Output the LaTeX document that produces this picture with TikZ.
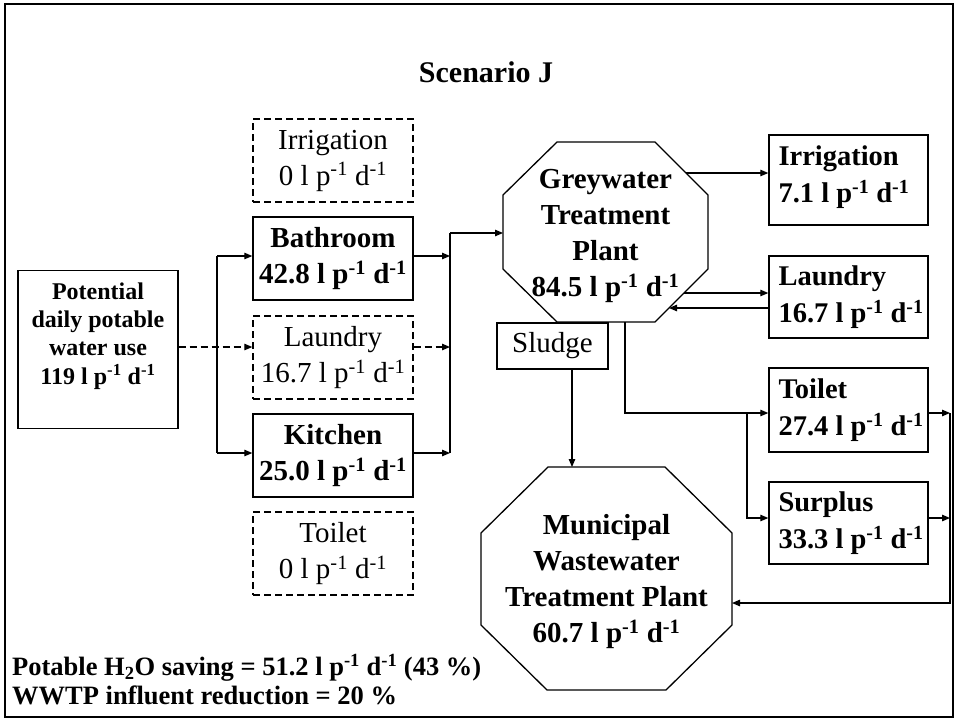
\documentclass[tikz,border=0pt]{standalone}
\usepackage{fontspec}
\setmainfont{Liberation Serif}
\usetikzlibrary{arrows.meta}
\newcommand{\lpd}{l p\textsuperscript{-1} d\textsuperscript{-1}}
\begin{document}
\begin{tikzpicture}[x=1pt,y=-1pt,
  txt/.style={font=\fontsize{29}{35}\selectfont, inner sep=0pt, align=center},
  box/.style={draw, line width=1.4pt, minimum width=160pt, minimum height=83pt, inner sep=0pt, align=center, font=\fontsize{29}{36}\selectfont},
  dbox/.style={box, dash pattern=on 7pt off 4pt},
  rbox/.style={draw, line width=1.4pt, minimum width=159pt, inner sep=0pt},
  rtxt/.style={anchor=west, inner sep=0pt, align=left, font=\fontsize{28.5}{36.5}\selectfont\bfseries},
  conn/.style={line width=1.2pt},
  arr/.style={line width=1.2pt, -{Triangle[length=8pt,width=6.5pt]}},
  darr/.style={arr, dash pattern=on 7pt off 4pt},
  oct/.style={draw, line width=1.3pt}
]
\useasboundingbox (0,0) rectangle (958,721);
\draw[line width=2.5pt] (5,4) rectangle (953,717);

% title
\node[txt, font=\fontsize{30}{36}\selectfont\bfseries] (title) at (486,72) {Scenario J};

% left box
\node[draw, line width=1.4pt, minimum width=160pt, minimum height=158pt] (pot) at (98,349.5) {};
\node[inner sep=0pt, align=center, font=\fontsize{24}{28.2}\selectfont\bfseries] (potT) at (98,336) {Potential\\daily potable\\water use\\119 \lpd};

% middle column
\node[dbox] (irrD) at (333,160.5) {Irrigation\\0 \lpd};
\node[box, font=\fontsize{29}{36}\selectfont\bfseries] (bath) at (333,258.5) {Bathroom\\42.8 \lpd};
\node[dbox] (lauD) at (333,357.5) {Laundry\\16.7 \lpd};
\node[box, font=\fontsize{29}{36}\selectfont\bfseries] (kit) at (333,455.5) {Kitchen\\25.0 \lpd};
\node[dbox] (toiD) at (333,553.5) {Toilet\\0 \lpd};

% greywater treatment plant
\draw[oct] (557,142) -- (655,142) -- (708,195) -- (708,269) -- (655,322) -- (557,322) -- (503,269) -- (503,195) -- cycle;
\node[txt, font=\fontsize{29}{35.8}\selectfont\bfseries] (gwT) at (605.5,236) {Greywater\\Treatment\\Plant\\84.5 \lpd};

% municipal wastewater treatment plant
\draw[oct] (548,467) -- (665,467) -- (732,533) -- (732,625) -- (666,690) -- (547,690) -- (481,625) -- (481,533) -- cycle;
\node[txt, font=\fontsize{29}{36}\selectfont\bfseries] (munT) at (606.5,582) {Municipal\\Wastewater\\Treatment Plant\\60.7 \lpd};

% sludge
\node[draw, line width=1.3pt, minimum width=111pt, minimum height=46pt, inner sep=0pt, font=\fontsize{29}{35}\selectfont] (sludge) at (552.5,346) {Sludge};

% right column
\node[rbox, minimum height=90pt] (irr) at (848.5,180) {};
\node[rbox, minimum height=82pt] (lau) at (848.5,297) {};
\node[rbox, minimum height=84pt] (toi) at (848.5,410) {};
\node[rbox, minimum height=82pt] (sur) at (848.5,523) {};
\node[rtxt] (irrT) at ([xshift=10pt,yshift=3pt]irr.west) {Irrigation\\7.1 \lpd};
\node[rtxt] (lauT) at ([xshift=10pt]lau.west) {Laundry\\16.7 \lpd};
\node[rtxt] (toiT) at ([xshift=10pt]toi.west) {Toilet\\27.4 \lpd};
\node[rtxt] (surT) at ([xshift=10pt]sur.west) {Surplus\\33.3 \lpd};

% bottom notes
\node[anchor=west, inner sep=0pt, align=left, font=\fontsize{26.5}{29}\selectfont\bfseries] (notes) at (12,679.5) {Potable H\textsubscript{2}O saving = 51.2 \lpd{} (43 \%)\\WWTP influent reduction = 20 \%};

% coordinates
\coordinate (yb) at (0,256);
\coordinate (yl) at (0,347);
\coordinate (yk) at (0,453);
\coordinate (lbus) at (217,0);
\coordinate (rbus) at (450,0);
\coordinate (gwIn) at (503,233);
\coordinate (gwIrr) at (686,173);
\coordinate (gwLau) at (684,293);
\coordinate (gwRet) at (669,308);
\coordinate (gwBot) at (625,322);
\coordinate (tj) at (625,413);
\coordinate (sj) at (747,413);
\coordinate (sj2) at (747,518);
\coordinate (ebus1) at (950,413);
\coordinate (ebus2) at (950,518);
\coordinate (ebus3) at (950,603);
\coordinate (munE) at (732,603);
\coordinate (slx) at (572,0);
\coordinate (munTop) at (572,467);

% left connectors
\draw[darr] (pot.east |- yl) -- (lauD.west |- yl);
\draw[conn] (lbus |- yb) -- (lbus |- yk);
\draw[arr] (lbus |- yb) -- (bath.west |- yb);
\draw[arr] (lbus |- yk) -- (kit.west |- yk);

% right-of-middle connectors
\draw[arr] (bath.east |- yb) -- (rbus |- yb);
\draw[darr] (lauD.east |- yl) -- (rbus |- yl);
\draw[arr] (kit.east |- yk) -- (rbus |- yk);
\draw[conn] (rbus |- gwIn) -- (rbus |- yk);
\draw[arr] (rbus |- gwIn) -- (gwIn);

% greywater outputs
\draw[arr] (gwIrr) -- (gwIrr -| irr.west);
\draw[arr] (gwLau) -- (gwLau -| lau.west);
\draw[arr] (gwRet -| lau.west) -- (gwRet);
\draw[arr] (gwBot) -- (tj) -- (tj -| toi.west);
\draw[arr] (sj) -- (sj2) -- (sj2 -| sur.west);
\draw[arr] (toi.east |- ebus1) -- (ebus1);
\draw[arr] (sur.east |- ebus2) -- (ebus2);
\draw[arr] (ebus1) -- (ebus3) -- (munE);

% sludge
\draw[arr] (sludge.south -| slx) -- (munTop);
\end{tikzpicture}
\end{document}
